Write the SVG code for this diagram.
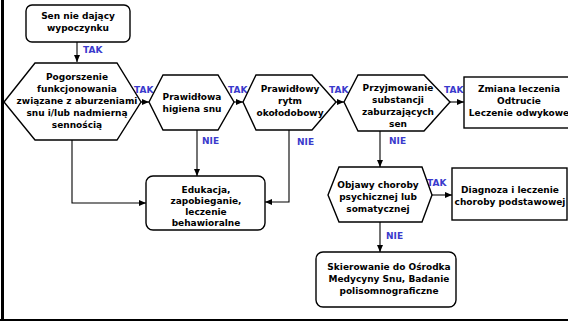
<svg xmlns="http://www.w3.org/2000/svg" width="568" height="322" viewBox="0 0 568 322">
<style>
.n{fill:#fff;stroke:#000;stroke-width:1.4}
.t{font-family:"DejaVu Sans",Verdana,sans-serif;font-weight:bold;font-size:9px;fill:#000;text-anchor:middle}
.l{font-family:"DejaVu Sans",Verdana,sans-serif;font-weight:bold;font-size:9px;fill:#3a3acc}
.c{fill:none;stroke:#000;stroke-width:1.1}
</style>
<defs>
<marker id="a" markerWidth="8" markerHeight="8" refX="7" refY="3.5" orient="auto" markerUnits="userSpaceOnUse">
<path d="M0,0.5 L7,3.5 L0,6.5 Z" fill="#000"/>
</marker>
</defs>
<rect width="568" height="322" fill="#fff"/>
<line x1="2.5" y1="0" x2="2.5" y2="321" stroke="#000" stroke-width="3"/>
<line x1="0" y1="320" x2="568" y2="320" stroke="#000" stroke-width="2"/>

<g id="connectors">
<path class="c" d="M77,42 V62" marker-end="url(#a)"/>
<path class="c" d="M141,102 H149" marker-end="url(#a)"/>
<path class="c" d="M234,102 H243" marker-end="url(#a)"/>
<path class="c" d="M336,102 H344" marker-end="url(#a)"/>
<path class="c" d="M450,102 H464" marker-end="url(#a)"/>
<path class="c" d="M197,130 V176" marker-end="url(#a)"/>
<path class="c" d="M72,140 V203 H146" marker-end="url(#a)"/>
<path class="c" d="M289,130 V202 H265" marker-end="url(#a)"/>
<path class="c" d="M380,131 V167" marker-end="url(#a)"/>
<path class="c" d="M432,195 H452" marker-end="url(#a)"/>
<path class="c" d="M380,222 V252" marker-end="url(#a)"/>
<text class="l" x="83" y="53">TAK</text>
<text class="l" x="134" y="93">TAK</text>
<text class="l" x="228" y="93">TAK</text>
<text class="l" x="329" y="93">TAK</text>
<text class="l" x="444" y="93">TAK</text>
<text class="l" x="202" y="144">NIE</text>
<text class="l" x="297" y="145">NIE</text>
<text class="l" x="389" y="144">NIE</text>
<text class="l" x="427" y="186">TAK</text>
<text class="l" x="386" y="239">NIE</text>
</g>

<g id="start">
<rect class="n" x="26" y="5" width="104" height="37" rx="6"/>
<text class="t" x="78" y="19">Sen nie dający</text>
<text class="t" x="78" y="31">wypoczynku</text>
</g>

<g id="hex1">
<polygon class="n" points="4,102 35,63 117,63 141,102 117,140 35,140"/>
<text class="t" x="77" y="80">Pogorszenie</text>
<text class="t" x="77" y="92">funkcjonowania</text>
<text class="t" x="77" y="104">związane z aburzeniami</text>
<text class="t" x="77" y="116">snu i/lub nadmierną</text>
<text class="t" x="77" y="128">sennością</text>
</g>

<g id="hex2">
<polygon class="n" points="149,102 163,75 218,75 234,102 218,130 163,130"/>
<text class="t" x="192" y="100">Prawidłowa</text>
<text class="t" x="192" y="112">higiena snu</text>
</g>

<g id="hex3">
<polygon class="n" points="243,102 256,75 312,75 336,102 312,130 256,130"/>
<text class="t" x="290" y="92">Prawidłowy</text>
<text class="t" x="290" y="104">rytm</text>
<text class="t" x="290" y="116">okołodobowy</text>
</g>

<g id="hex4">
<polygon class="n" points="344,102 358,75 424,75 450,102 424,131 358,131"/>
<text class="t" x="398" y="91">Przyjmowanie</text>
<text class="t" x="398" y="103">substancji</text>
<text class="t" x="398" y="115">zaburzających</text>
<text class="t" x="398" y="127">sen</text>
</g>

<g id="zmiana">
<rect class="n" x="464" y="77" width="110" height="51"/>
<text class="t" x="519" y="92">Zmiana leczenia</text>
<text class="t" x="519" y="104">Odtrucie</text>
<text class="t" x="519" y="116">Leczenie odwykowe</text>
</g>

<g id="edukacja">
<rect class="n" x="146" y="176" width="119" height="54" rx="7"/>
<text class="t" x="206" y="193">Edukacja,</text>
<text class="t" x="206" y="204">zapobieganie,</text>
<text class="t" x="206" y="215">leczenie</text>
<text class="t" x="206" y="226">behawioralne</text>
</g>

<g id="hex5">
<polygon class="n" points="328,195 339,167 422,167 432,195 422,222 339,222"/>
<text class="t" x="378" y="188">Objawy choroby</text>
<text class="t" x="378" y="200">psychicznej lub</text>
<text class="t" x="378" y="212">somatycznej</text>
</g>

<g id="diagnoza">
<rect class="n" x="452" y="168" width="115" height="52"/>
<text class="t" x="510" y="193">Diagnoza i leczenie</text>
<text class="t" x="510" y="205">choroby podstawowej</text>
</g>

<g id="skierowanie">
<rect class="n" x="316" y="252" width="140" height="55" rx="7"/>
<text class="t" x="389" y="270">Skierowanie do Ośrodka</text>
<text class="t" x="389" y="282">Medycyny Snu, Badanie</text>
<text class="t" x="389" y="294">polisomnograficzne</text>
</g>
</svg>
